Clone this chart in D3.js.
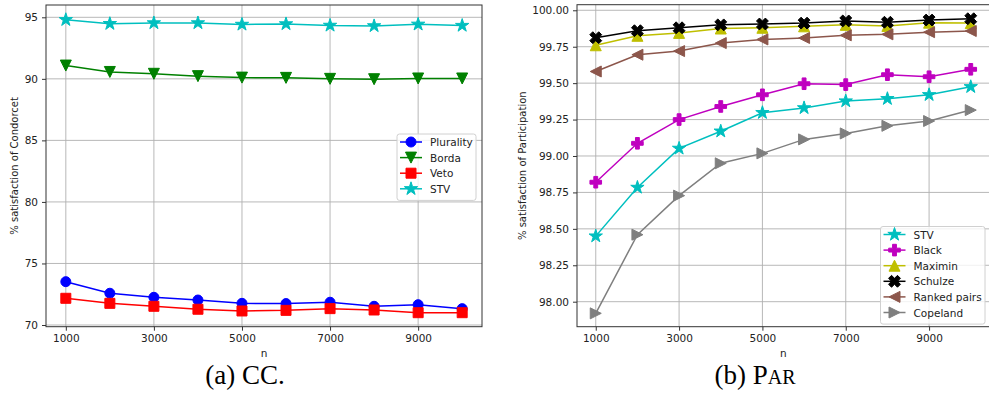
<!DOCTYPE html>
<html>
<head>
<meta charset="utf-8">
<script src="https://cdn.jsdelivr.net/npm/d3@7"></script>
<style>
  body { margin: 0; background: #fff; }
  svg { display: block; }
</style>
</head>
<body>
<svg id="chart" width="989" height="395"></svg>
<script>
// sample sizes on the x axis
const nValues = [1000, 2000, 3000, 4000, 5000, 6000, 7000, 8000, 9000, 10000]
const xTicks = [1000, 3000, 5000, 7000, 9000]

// (a) CC - % satisfaction of Condorcet
const ccPlurality = [73.52, 72.58, 72.25, 72.03, 71.76, 71.74, 71.85, 71.52, 71.65, 71.33]
const ccBorda     = [91.08, 90.56, 90.41, 90.22, 90.10, 90.08, 90.00, 89.97, 90.03, 90.03]
const ccVeto      = [72.17, 71.76, 71.52, 71.28, 71.14, 71.19, 71.33, 71.22, 71.00, 71.00]
const ccSTV       = [94.80, 94.48, 94.54, 94.54, 94.42, 94.46, 94.34, 94.30, 94.43, 94.33]
const ccYTicks = [70, 75, 80, 85, 90, 95]

// (b) PAR - % satisfaction of Participation
const parSTV      = [98.450, 98.784, 99.052, 99.170, 99.297, 99.330, 99.377, 99.393, 99.420, 99.475]
const parBlack    = [98.820, 99.087, 99.250, 99.340, 99.420, 99.496, 99.490, 99.558, 99.544, 99.595]
const parMaximin  = [99.760, 99.825, 99.845, 99.875, 99.880, 99.890, 99.900, 99.893, 99.915, 99.912]
const parSchulze  = [99.812, 99.860, 99.880, 99.900, 99.906, 99.912, 99.927, 99.918, 99.933, 99.942]
const parRanked   = [99.580, 99.695, 99.720, 99.775, 99.800, 99.810, 99.828, 99.835, 99.850, 99.858]
const parCopeland = [97.920, 98.460, 98.728, 98.950, 99.018, 99.114, 99.155, 99.207, 99.240, 99.315]
const parYTicks = [98.00, 98.25, 98.50, 98.75, 99.00, 99.25, 99.50, 99.75, 100.00]

const svg = d3.select("#chart")
const tickFont = "'DejaVu Sans', sans-serif"

// marker paths, unit size (roughly -1..1)
function starPath(r) {
  const pts = []
  for (let i = 0; i < 10; i++) {
    const rad = i % 2 ? r * 0.381966 : r
    const a = -Math.PI / 2 + i * Math.PI / 5
    pts.push([rad * Math.cos(a), rad * Math.sin(a)])
  }
  return "M" + pts.map(p => p.join(",")).join("L") + "Z"
}
function triPath(r, dir) {
  let pts = [[0, -r], [-r, r], [r, r]]
  if (dir == "down") pts = pts.map(([x, y]) => [x, -y])
  if (dir == "left") pts = pts.map(([x, y]) => [y, x])
  if (dir == "right") pts = pts.map(([x, y]) => [-y, x])
  return "M" + pts.map(p => p.join(",")).join("L") + "Z"
}
function plusPath(r, rotate) {
  const u = r / 3
  let pts = [[-1, -3], [1, -3], [1, -1], [3, -1], [3, 1], [1, 1], [1, 3], [-1, 3], [-1, 1], [-3, 1], [-3, -1], [-1, -1]]
    .map(([x, y]) => [x * u, y * u])
  if (rotate) {
    const c = Math.SQRT1_2
    pts = pts.map(([x, y]) => [(x - y) * c, (x + y) * c])
  }
  return "M" + pts.map(p => p.join(",")).join("L") + "Z"
}
const markers = {
  circle: () => d3.symbol(d3.symbolCircle, Math.PI * 5 * 5)(),
  square: () => "M-5,-5H5V5H-5Z",
  star: () => starPath(7),
  down: () => triPath(5.5, "down"),
  up: () => triPath(5.5, "up"),
  left: () => triPath(5.5, "left"),
  right: () => triPath(5.5, "right"),
  plus: () => plusPath(5.8, false),
  x: () => plusPath(6.3, true)
}

function drawPanel(p) {
  const x = d3.scaleLinear().domain([550, 10450]).range([p.left, p.right])
  const y = d3.scaleLinear().domain(p.yDomain).range([p.bottom, p.top])
  const g = svg.append("g")

  // grid
  g.append("g").selectAll("line").data(xTicks).join("line")
    .attr("x1", d => x(d)).attr("x2", d => x(d))
    .attr("y1", p.top).attr("y2", p.bottom)
    .attr("stroke", "#b0b0b0").attr("stroke-width", 0.9)
  g.append("g").selectAll("line").data(p.yTicks).join("line")
    .attr("y1", d => y(d)).attr("y2", d => y(d))
    .attr("x1", p.left).attr("x2", p.right)
    .attr("stroke", "#b0b0b0").attr("stroke-width", 0.9)

  // series
  p.series.forEach(s => {
    const pts = nValues.map((n, i) => [x(n), y(s.values[i])])
    g.append("path")
      .attr("d", d3.line()(pts))
      .attr("fill", "none").attr("stroke", s.color).attr("stroke-width", 1.5)
    g.append("g").selectAll("path").data(pts).join("path")
      .attr("transform", d => `translate(${d[0]},${d[1]})`)
      .attr("d", markers[s.marker]())
      .attr("fill", s.color).attr("stroke", s.color).attr("stroke-width", 1)
  })

  // axes
  const xAxis = g.append("g").attr("transform", `translate(0,${p.bottom})`)
    .call(d3.axisBottom(x).tickValues(xTicks).tickSize(4).tickPadding(4).tickFormat(d3.format("d")))
  const yAxis = g.append("g").attr("transform", `translate(${p.left},0)`)
    .call(d3.axisLeft(y).tickValues(p.yTicks).tickSize(4).tickPadding(4).tickFormat(p.yFormat))
  ;[xAxis, yAxis].forEach(a => {
    a.select(".domain").remove()
    a.selectAll("line").attr("stroke", "#333")
    a.selectAll("text").attr("font-family", tickFont).attr("font-size", 10.5).attr("fill", "#222")
  })

  // spines
  g.append("rect")
    .attr("x", p.left).attr("y", p.top)
    .attr("width", p.right - p.left).attr("height", p.bottom - p.top)
    .attr("fill", "none").attr("stroke", "#333").attr("stroke-width", 1)

  // axis labels
  g.append("text")
    .attr("x", (p.left + p.right) / 2).attr("y", 357)
    .attr("text-anchor", "middle")
    .attr("font-family", tickFont).attr("font-size", 10.5).attr("fill", "#222")
    .text("n")
  g.append("text")
    .attr("transform", `translate(${p.yLabelX},${(p.top + p.bottom) / 2}) rotate(-90)`)
    .attr("text-anchor", "middle")
    .attr("font-family", tickFont).attr("font-size", 10).attr("fill", "#222")
    .text(p.yLabel)

  // legend
  const lg = g.append("g").attr("transform", `translate(${p.legend.x},${p.legend.y})`)
  lg.append("rect")
    .attr("width", p.legend.w).attr("height", p.series.length * 15.6 + 4)
    .attr("rx", 2.5)
    .attr("fill", "#fff").attr("fill-opacity", 0.8)
    .attr("stroke", "#d0d0d0").attr("stroke-width", 1)
  p.legendOrder.forEach((s, i) => {
    const cy = 8 + i * 15.6
    lg.append("line").attr("x1", 3).attr("x2", 25).attr("y1", cy).attr("y2", cy)
      .attr("stroke", s.color).attr("stroke-width", 1.5)
    lg.append("path").attr("transform", `translate(14,${cy})`)
      .attr("d", markers[s.marker]())
      .attr("fill", s.color).attr("stroke", s.color)
    lg.append("text").attr("x", 33).attr("y", cy + 4)
      .attr("font-family", tickFont).attr("font-size", 10.5).attr("fill", "#222")
      .text(s.name)
  })
}

const ccSeries = [
  { name: "Plurality", values: ccPlurality, color: "#0000ff", marker: "circle" },
  { name: "Borda", values: ccBorda, color: "#008000", marker: "down" },
  { name: "Veto", values: ccVeto, color: "#ff0000", marker: "square" },
  { name: "STV", values: ccSTV, color: "#00bfbf", marker: "star" }
]
drawPanel({
  left: 46, right: 482, top: 5, bottom: 326.7,
  yDomain: [69.862, 96.0], yTicks: ccYTicks, yFormat: d3.format("d"),
  yLabel: "% satisfaction of Condorcet", yLabelX: 18,
  series: ccSeries, legendOrder: ccSeries,
  legend: { x: 397, y: 134, w: 79 }
})

const parSeries = [
  { name: "STV", values: parSTV, color: "#00bfbf", marker: "star" },
  { name: "Black", values: parBlack, color: "#bf00bf", marker: "plus" },
  { name: "Maximin", values: parMaximin, color: "#bfbf00", marker: "up" },
  { name: "Schulze", values: parSchulze, color: "#000000", marker: "x" },
  { name: "Ranked pairs", values: parRanked, color: "#8c564b", marker: "left" },
  { name: "Copeland", values: parCopeland, color: "#7f7f7f", marker: "right" }
]
drawPanel({
  left: 577, right: 989.5, top: 4.7, bottom: 326.7,
  yDomain: [97.8284, 100.0384], yTicks: parYTicks, yFormat: d3.format(".2f"),
  yLabel: "% satisfaction of Participation", yLabelX: 526,
  series: parSeries, legendOrder: parSeries,
  legend: { x: 880.5, y: 226.5, w: 104.5 }
})

// captions
svg.append("text")
  .attr("x", 245).attr("y", 384).attr("text-anchor", "middle")
  .attr("font-family", "'Liberation Serif', 'Times New Roman', serif").attr("font-size", 27)
  .text("(a) CC.")
const capB = svg.append("text")
  .attr("x", 755).attr("y", 384).attr("text-anchor", "middle")
  .attr("font-family", "'Liberation Serif', 'Times New Roman', serif").attr("font-size", 27)
capB.append("tspan").text("(b) P")
capB.append("tspan").attr("font-size", 20).text("AR")
</script>
</body>
</html>
